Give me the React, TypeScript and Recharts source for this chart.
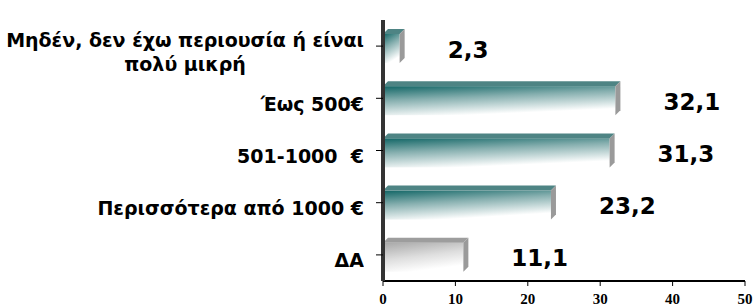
import { Bar, BarChart, LabelList, XAxis, YAxis } from 'recharts'

const categories = [
  'Μηδέν, δεν έχω περιουσία ή είναι\nπολύ μικρή',
  'Έως 500€',
  '501-1000  €',
  'Περισσότερα από 1000 €',
  'ΔΑ',
]
const values = [2.3, 32.1, 31.3, 23.2, 11.1]
const barFills = ['url(#teal)', 'url(#teal)', 'url(#teal)', 'url(#teal)', 'url(#gray)']
const xTicks = [0, 10, 20, 30, 40, 50]

const data = categories.map((name, i) => ({ name, value: values[i], fill: barFills[i] }))

const labelFont = '"DejaVu Sans", Verdana, sans-serif'

function Bar3D(props: any) {
  const { x, y, width, height, fill, index } = props
  const d = 5
  const top = index === 4 ? '#8c8c8c' : '#2f6f6f'
  return (
    <g>
      <rect x={x} y={y + d} width={width} height={height - d} fill={fill} />
      <polygon
        points={`${x},${y + d} ${x + d},${y} ${x + width + d},${y} ${x + width},${y + d}`}
        fill={top}
        opacity={0.85}
      />
      <polygon
        points={`${x + width},${y + d} ${x + width + d},${y} ${x + width + d},${y + height - d} ${x + width},${y + height}`}
        fill="#9a9a9a"
      />
    </g>
  )
}

function CategoryTick({ x, y, payload }: any) {
  const lines = String(payload.value).split('\n')
  return (
    <foreignObject x={x - 390} y={y - 32} width={380} height={70}>
      <div
        style={{
          display: 'flex',
          height: '100%',
          alignItems: 'center',
          justifyContent: 'flex-end',
          fontFamily: labelFont,
          fontWeight: 700,
          fontSize: 19,
          lineHeight: '24px',
          color: '#000',
          whiteSpace: 'pre',
          paddingTop: 5,
          boxSizing: 'border-box',
        }}
      >
        <div style={{ textAlign: 'center' }}>
          {lines.map((l, i) => (
            <div key={i}>{l}</div>
          ))}
        </div>
      </div>
    </foreignObject>
  )
}

function ValueLabel({ x, y, width, height, value }: any) {
  return (
    <text
      x={x + width + 48}
      y={y + height / 2 + 5}
      dominantBaseline="middle"
      fontFamily={labelFont}
      fontWeight={700}
      fontSize={23}
      fill="#000"
    >
      {String(value).replace('.', ',')}
    </text>
  )
}

export default function App() {
  return (
    <div style={{ position: 'absolute', left: 0, top: 0, background: '#fff' }}>
      <BarChart
        width={755}
        height={307}
        data={data}
        layout="vertical"
        margin={{ top: 20, right: 10, bottom: 0, left: 0 }}
        barSize={34}
      >
        <defs>
          <linearGradient id="teal" x1="0" y1="0" x2="0.35" y2="1">
            <stop offset="0%" stopColor="#126666" />
            <stop offset="45%" stopColor="#86afaf" />
            <stop offset="100%" stopColor="#ffffff" />
          </linearGradient>
          <linearGradient id="gray" x1="0" y1="0" x2="0.35" y2="1">
            <stop offset="0%" stopColor="#a8a8a8" />
            <stop offset="55%" stopColor="#dedede" />
            <stop offset="100%" stopColor="#ffffff" />
          </linearGradient>
        </defs>
        <XAxis
          type="number"
          domain={[0, 50]}
          ticks={xTicks}
          axisLine={{ stroke: '#000', strokeWidth: 2 }}
          tickLine={{ stroke: '#000' }}
          tickSize={5}
          tick={{ fill: '#000', fontSize: 15, fontWeight: 700, dy: 5, fontFamily: '"Liberation Serif", "Times New Roman", serif' }}
          height={26}
          interval={0}
        />
        <YAxis
          type="category"
          dataKey="name"
          width={383}
          axisLine={{ stroke: '#333', strokeWidth: 4 }}
          tickLine={{ stroke: '#000' }}
          tickSize={7}
          tick={<CategoryTick />}
          interval={0}
        />
        <Bar dataKey="value" shape={<Bar3D />} isAnimationActive={false}>
          <LabelList dataKey="value" content={<ValueLabel />} />
        </Bar>
      </BarChart>
    </div>
  )
}
